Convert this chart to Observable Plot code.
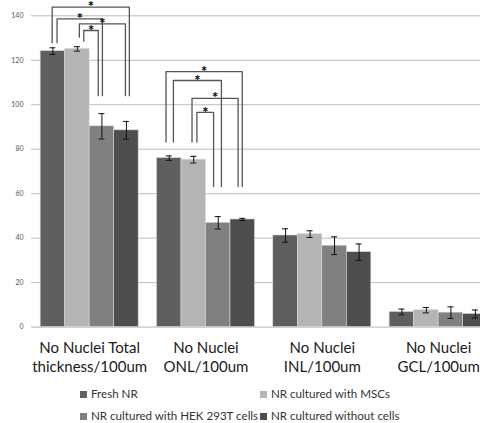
<!DOCTYPE html>
<html>
<head>
<meta charset="utf-8">
<script src="https://cdn.jsdelivr.net/npm/d3@7"></script>
<script src="https://cdn.jsdelivr.net/npm/@observablehq/plot@0.6"></script>
<style>
  html, body { margin: 0; padding: 0; background: #fff; overflow: hidden; width: 480px; height: 423px; }
  #wrap { position: relative; width: 480px; height: 423px; overflow: hidden; }
  #chart svg { max-width: none !important; display: block; }
  .leg { position: absolute; font-family: Lato, "Liberation Sans", sans-serif; font-size: 11.6px; color: #333; white-space: nowrap; line-height: 14px; }
  .sw { display: inline-block; width: 7px; height: 7px; margin-right: 4px; vertical-align: 0px; }
</style>
</head>
<body>
<div id="wrap"><div id="chart"></div><div id="legend"></div></div>
<script>
// ---- data ----
const categories = ["No Nuclei Total\nthickness/100um", "No Nuclei\nONL/100um", "No Nuclei\nINL/100um", "No Nuclei\nGCL/100um"];
const seriesNames = ["Fresh NR", "NR cultured with MSCs", "NR cultured with HEK 293T cells", "NR cultured without cells"];
const freshNR = [124.1, 76.0, 41.2, 6.8];
const freshErr = [1.5, 1.0, 3.0, 1.3];
const mscNR = [125.1, 75.3, 41.8, 7.6];
const mscErr = [1.0, 1.5, 1.5, 1.2];
const hekNR = [90.3, 46.9, 36.6, 6.5];
const hekErr = [5.7, 2.8, 4.0, 2.6];
const noCellsNR = [88.5, 48.4, 33.7, 5.9];
const noCellsErr = [4.0, 0.5, 3.7, 1.8];
const yTicks = [0, 20, 40, 60, 80, 100, 120, 140];
// significance brackets: group, from series, to series, bracket level, left leg end, right leg end
const bracketGroup = [0, 0, 0, 0, 1, 1, 1, 1];
const bracketFrom  = [0, 0, 1, 1, 0, 0, 1, 1];
const bracketTo    = [3, 2, 3, 2, 3, 2, 3, 2];
const bracketTop   = [143.9, 138.6, 136.4, 133.4, 114.9, 110.9, 102.9, 96.6];
const bracketLeftEnd  = [127.9, 127.9, 130.4, 128.6, 83.2, 83.2, 83.2, 83.2];
const bracketRightEnd = [104.1, 104.1, 104.1, 104.1, 63.2, 63.2, 63.2, 63.2];
const bracketLabel = "*";

// ---- styling / layout ----
const colors = ["#5f5f5f", "#b4b4b4", "#808080", "#4e4e4e"];
const legOffL = [-0.03, 0.17, 0.08, 0.26, -0.13, 0.17, -0.07, 0.13];
const legOffR = [0.12, 0.02, -0.04, -0.15, -0.02, 0.13, -0.19, -0.19];
const groupSpan = 0.8427;
const barW = groupSpan / 4;

const values = [freshNR, mscNR, hekNR, noCellsNR];
const errs = [freshErr, mscErr, hekErr, noCellsErr];
const bars = [];
categories.forEach((c, g) => {
  seriesNames.forEach((s, i) => {
    const x1 = g - groupSpan / 2 + i * barW;
    bars.push({g, i, series: s, x1, x2: x1 + barW, xc: x1 + barW / 2,
      v: values[i][g], lo: values[i][g] - errs[i][g], hi: values[i][g] + errs[i][g]});
  });
});
const barCenter = (g, i) => g - groupSpan / 2 + (i + 0.5) * barW;
const bracketPts = [];
const stars = [];
bracketGroup.forEach((g, k) => {
  const xl = barCenter(g, bracketFrom[k]) + legOffL[k] * barW;
  const xr = barCenter(g, bracketTo[k]) + legOffR[k] * barW;
  bracketPts.push({k, x: xl, y: bracketLeftEnd[k]}, {k, x: xl, y: bracketTop[k]},
                  {k, x: xr, y: bracketTop[k]}, {k, x: xr, y: bracketRightEnd[k]});
  stars.push({x: (xl + xr) / 2, y: bracketTop[k], t: bracketLabel});
});

const W = 500, H = 380;
const plot = Plot.plot({
  width: W, height: H,
  marginLeft: 31, marginRight: 3.7, marginTop: 15.3, marginBottom: H - 326.6,
  x: {domain: [-0.5, 3.5], axis: null},
  y: {domain: [0, 140], axis: null},
  style: {background: "transparent", maxWidth: "none"},
  marks: [
    Plot.gridY(yTicks.filter(d => d > 0), {stroke: "#bdbdbd", strokeOpacity: 1, strokeWidth: 1}),
    Plot.ruleY([0], {stroke: "#c4c4c4", strokeWidth: 1.3}),
    Plot.axisY({ticks: yTicks, tickSize: 0, tickPadding: 8, fontSize: 7, fill: "#555", fontFamily: "Lato, sans-serif"}),
    Plot.rectY(bars, {x1: "x1", x2: "x2", y1: 0, y2: "v", fill: d => colors[d.i], stroke: "#d8d8d8", strokeWidth: 0.6}),
    Plot.ruleX(bars, {x: "xc", y1: "lo", y2: "hi", stroke: "#111", strokeWidth: 1}),
    Plot.ruleY(bars, {y: "lo", x1: d => d.xc - 0.026, x2: d => d.xc + 0.026, stroke: "#111", strokeWidth: 1}),
    Plot.ruleY(bars, {y: "hi", x1: d => d.xc - 0.026, x2: d => d.xc + 0.026, stroke: "#111", strokeWidth: 1}),
    Plot.line(bracketPts, {x: "x", y: "y", z: "k", stroke: "#555", strokeWidth: 1.3, curve: "linear"}),
    Plot.text(stars, {x: "x", y: "y", text: "t", dy: -1, fontSize: 10, fontWeight: "bold", fill: "#000", fontFamily: "DejaVu Sans, sans-serif", style: "-webkit-font-smoothing: antialiased"}),
    Plot.text(categories, {x: (d, i) => i, y: 0, text: d => d, lineAnchor: "top", dy: 12, lineHeight: 1.27, fontSize: 15, fill: "#1a1a1a", fontFamily: "Lato, sans-serif"})
  ]
});
plot.style.maxWidth = "none";
document.getElementById("chart").appendChild(plot);

// legend
const legendPos = [[80, 387], [260, 387], [80, 409], [260, 409]];
const lg = document.getElementById("legend");
seriesNames.forEach((s, i) => {
  const d = document.createElement("div");
  d.className = "leg";
  d.style.left = legendPos[i][0] + "px";
  d.style.top = legendPos[i][1] + "px";
  d.innerHTML = `<span class="sw" style="background:${colors[i]}"></span>${s}`;
  lg.appendChild(d);
});
</script>
</body>
</html>
